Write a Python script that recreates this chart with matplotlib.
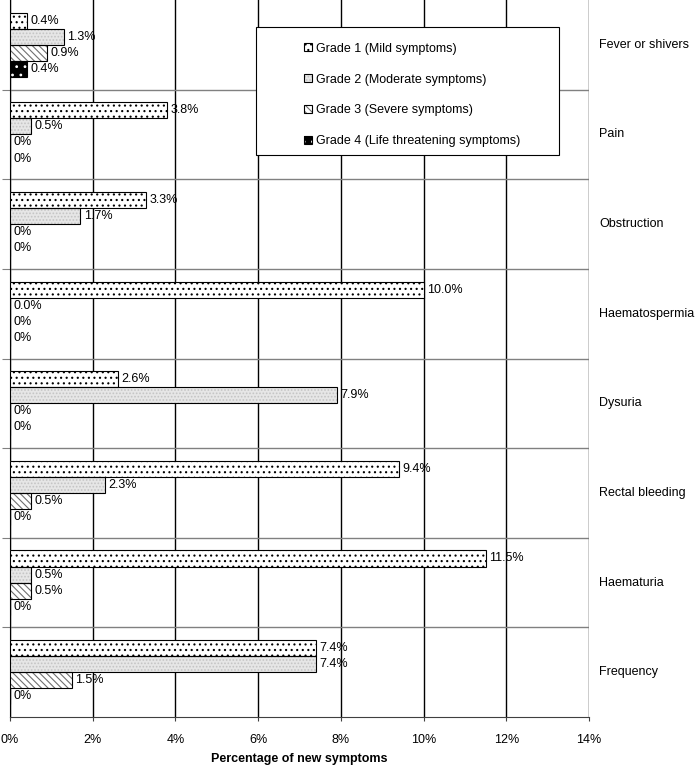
import matplotlib
matplotlib.use('Agg')
import matplotlib.pyplot as plt
import matplotlib.transforms as mtransforms
from matplotlib.patches import Patch, Rectangle
import numpy as np

plt.rcParams['font.family'] = ['Liberation Sans', 'DejaVu Sans']
plt.rcParams['font.size'] = 9
plt.rcParams['hatch.linewidth'] = 0.8

categories = ['Fever or shivers', 'Pain', 'Obstruction', 'Haematospermia',
              'Dysuria', 'Rectal bleeding', 'Haematuria', 'Frequency']
grade_names = ['Grade 1 (Mild symptoms)', 'Grade 2 (Moderate symptoms)',
               'Grade 3 (Severe symptoms)', 'Grade 4 (Life threatening symptoms)']

grade1 = [0.4, 3.8, 3.3, 10.0, 2.6, 9.4, 11.5, 7.4]
grade2 = [1.3, 0.5, 1.7, 0.0, 7.9, 2.3, 0.5, 7.4]
grade3 = [0.9, 0.0, 0.0, 0.0, 0.0, 0.5, 0.5, 1.5]
grade4 = [0.4, 0.0, 0.0, 0.0, 0.0, 0.0, 0.0, 0.0]

labels1 = ['0.4%', '3.8%', '3.3%', '10.0%', '2.6%', '9.4%', '11.5%', '7.4%']
labels2 = ['1.3%', '0.5%', '1.7%', '0.0%', '7.9%', '2.3%', '0.5%', '7.4%']
labels3 = ['0.9%', '0%', '0%', '0%', '0%', '0.5%', '0.5%', '1.5%']
labels4 = ['0.4%', '0%', '0%', '0%', '0%', '0%', '0%', '0%']

xticks = [0, 2, 4, 6, 8, 10, 12, 14]

grades = [grade1, grade2, grade3, grade4]
grade_labels = [labels1, labels2, labels3, labels4]
# (face, hatch colour, hatch)
styles = [('white', 'black', '...'),
          ('#e6e6e6', '#c4c4c4', '.....'),
          ('white', '#707070', '\\\\\\\\\\'),
          ('black', 'white', '..')]

fig = plt.figure(figsize=(6.97, 7.69), dpi=100)
W, H = 697, 769
ax = fig.add_axes([10 / W, 1 - 717 / H, 579 / W, 717 / H])

n = len(categories)
y = np.arange(n)
h = 0.179

for k, (vals, labs, (fc, hc, hatch)) in enumerate(zip(grades, grade_labels, styles)):
    yy = y + (k - 1.5) * h
    ax.barh(yy, vals, height=h, color=fc, edgecolor=hc, hatch=hatch, linewidth=0, zorder=3)
    ax.barh(yy, vals, height=h, fill=False, edgecolor='black', linewidth=0.8, zorder=4)
    for yi, v, lab in zip(yy, vals, labs):
        ax.annotate(lab, (v, yi), xytext=(2.5, 0), textcoords='offset points',
                    ha='left', va='center', zorder=5)

ax.set_xlim(0, 14)
ax.set_ylim(n - 0.5, -0.5)

# category separators
for b in np.arange(0.5, n - 0.5, 1):
    ax.axhline(b, color='#808080', linewidth=1, zorder=1)

ax.set_xticks(xticks)
ax.set_xticklabels([f'{t}%' for t in xticks])
ax.xaxis.grid(True, color='black', linewidth=1)
ax.set_axisbelow(True)
ax.tick_params(axis='x', length=3, pad=9, color='#404040')
ax.set_yticks(np.arange(0.5, n - 0.5, 1))
ax.set_yticklabels([])
ax.tick_params(axis='y', length=6, color='#808080')

ax.spines['top'].set_visible(False)
ax.spines['right'].set_visible(False)
ax.spines['bottom'].set_color('#404040')
ax.spines['left'].set_color('black')

ax.set_xlabel('Percentage of new symptoms', fontweight='bold', labelpad=5)

# category names on the right
trans = mtransforms.blended_transform_factory(fig.transFigure, ax.transData)
for yi, cat in zip(y, categories):
    ax.text(599 / W, yi, cat, transform=trans, ha='left', va='center',
            clip_on=False)

# legend
handles = []
for fc, hc, hatch in styles:
    handles.append((Patch(facecolor=fc, edgecolor=hc, hatch=hatch, linewidth=0),
                    Patch(fill=False, edgecolor='black', linewidth=0.8)))
leg = fig.legend(handles, grade_names, loc='upper left',
                 bbox_to_anchor=(298 / W, 1 - 36.5 / H), frameon=False,
                 borderpad=0, handlelength=0.6, handleheight=0.6,
                 handletextpad=0.3, labelspacing=1.5)
fig.add_artist(Rectangle((256 / W, 1 - 155 / H), 303 / W, 128 / H,
                         transform=fig.transFigure, facecolor='white',
                         edgecolor='black', linewidth=0.8, zorder=2))
leg.set_zorder(3)

fig.savefig('out.png', dpi=100)
